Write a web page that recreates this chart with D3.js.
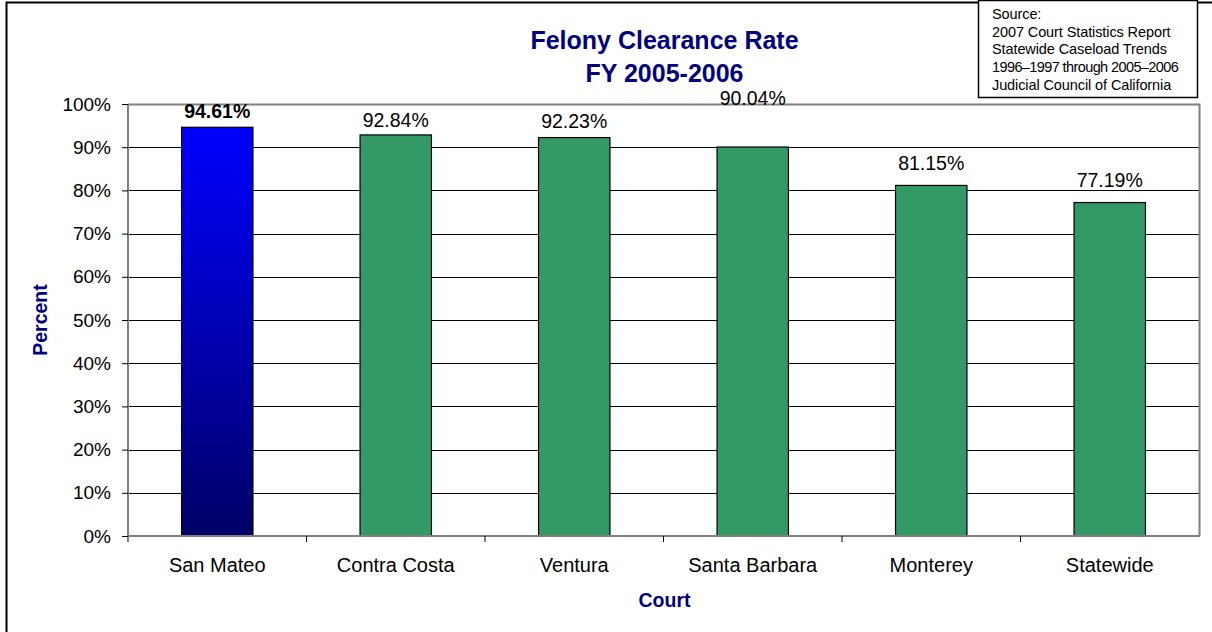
<!DOCTYPE html>
<html><head><meta charset="utf-8">
<script src="https://cdn.jsdelivr.net/npm/d3@7"></script>
<style>body{margin:0;background:#fff}svg{display:block}text{font-family:Arial,"Liberation Sans",sans-serif}</style>
</head><body><svg id="c" width="1212" height="632"></svg>
<script>
const categories = ["San Mateo","Contra Costa","Ventura","Santa Barbara","Monterey","Statewide"];
const values = [94.61, 92.84, 92.23, 90.04, 81.15, 77.19];
const yTicks = [0,10,20,30,40,50,60,70,80,90,100];
const titleLines = ["Felony Clearance Rate","FY 2005-2006"];
const sourceLines = ["Source:","2007 Court Statistics Report","Statewide Caseload Trends","1996\u20131997 through 2005\u20132006","Judicial Council of California"];

const svg = d3.select("#c");
const L=128, R=1199, T=104, B=536;
const navy="#000080";
const FF = "Arial, 'Liberation Sans', sans-serif";
// label gap above each bar (layout, as placed in the original)
const labelGap = [9.5, 8, 9.5, 42, 15.5, 15.5];

// outer chart border
svg.append("path").attr("d","M6.5,632 V2.5 H1212").attr("fill","none").attr("stroke","#000").attr("stroke-width",2);

const x = d3.scaleBand().domain(categories).range([L,R]).paddingInner(0.6).paddingOuter(0.3);
const y = d3.scaleLinear().domain([0,100]).range([B,T]);

const defs = svg.append("defs");
const g = defs.append("linearGradient").attr("id","blueGrad").attr("x1",0).attr("y1",0).attr("x2",0).attr("y2",1);
g.append("stop").attr("offset","0%").attr("stop-color","#0000ff");
g.append("stop").attr("offset","100%").attr("stop-color","#000066");

// gridlines
svg.append("g").selectAll("line").data(yTicks.filter(d=>d>0&&d<100)).join("line")
  .attr("x1",L).attr("x2",R).attr("y1",d=>Math.round(y(d))+0.5).attr("y2",d=>Math.round(y(d))+0.5)
  .attr("stroke","#000").attr("stroke-width",1);

// plot frame
svg.append("path").attr("d",`M${L},${T+0.5} H${R+0.5} V${B}`).attr("fill","none").attr("stroke","#808080").attr("stroke-width",2);

// bars
svg.append("g").selectAll("rect").data(categories).join("rect")
  .attr("x",d=>x(d)).attr("width",x.bandwidth())
  .attr("y",(d,i)=>y(values[i])).attr("height",(d,i)=>B-y(values[i]))
  .attr("fill",(d,i)=>i===0?"url(#blueGrad)":"#339966")
  .attr("stroke","#000").attr("stroke-width",1.2);

// value labels
svg.append("g").selectAll("text").data(categories).join("text")
  .attr("x",d=>x(d)+x.bandwidth()/2).attr("y",(d,i)=>y(values[i])-labelGap[i])
  .attr("text-anchor","middle").attr("font-size",19.5)
  .attr("font-weight",(d,i)=>i===0?"bold":"normal")
  .text((d,i)=>values[i].toFixed(2)+"%");

// y axis
const ya = svg.append("g").attr("transform",`translate(${L},0)`)
  .call(d3.axisLeft(y).tickValues(yTicks).tickSize(6).tickPadding(11).tickFormat(d=>d+"%"));
ya.select(".domain").attr("stroke","#808080").attr("stroke-width",2).attr("d",`M0,${T}V${B+6}`);
ya.selectAll(".tick line").attr("stroke","#000");
ya.selectAll("text").attr("font-size",19).attr("fill","#000").style("font-family",FF);

// x axis
const xa = svg.append("g").attr("transform",`translate(0,${B})`)
  .call(d3.axisBottom(x).tickSize(0).tickPadding(22));
xa.select(".domain").attr("stroke","#808080").attr("stroke-width",2).attr("d",`M${L},0H${R+1}`);
xa.selectAll("text").attr("font-size",20).attr("fill","#000").style("font-family",FF);
// category separator ticks
svg.append("g").selectAll("line").data(d3.range(1,categories.length)).join("line")
  .attr("x1",i=>L+i*(R-L)/categories.length).attr("x2",i=>L+i*(R-L)/categories.length)
  .attr("y1",B).attr("y2",B+6).attr("stroke","#000");

// title
svg.append("g").selectAll("text").data(titleLines).join("text")
  .attr("x",(L+R)/2+1).attr("y",(d,i)=>49+i*33).attr("text-anchor","middle")
  .attr("font-size",25).attr("font-weight","bold").attr("fill",navy).text(d=>d);

// axis titles
svg.append("text").attr("x",(L+R)/2+1).attr("y",607).attr("text-anchor","middle")
  .attr("font-size",19.5).attr("font-weight","bold").attr("fill",navy).text("Court");
svg.append("text").attr("transform","translate(47,320) rotate(-90)").attr("text-anchor","middle")
  .attr("font-size",19.5).attr("font-weight","bold").attr("fill",navy).text("Percent");

// source box
svg.append("rect").attr("x",978.5).attr("y",0.5).attr("width",219).attr("height",97).attr("fill","#fff").attr("stroke","#000").attr("stroke-width",1.5);
svg.append("g").selectAll("text").data(sourceLines).join("text")
  .attr("x",992).attr("y",(d,i)=>19+i*17.7).attr("font-size",14.5)
  .attr("letter-spacing",(d,i)=>i===3?"-0.6":"-0.1")
  .attr("fill","#000").text(d=>d);
</script></body></html>
